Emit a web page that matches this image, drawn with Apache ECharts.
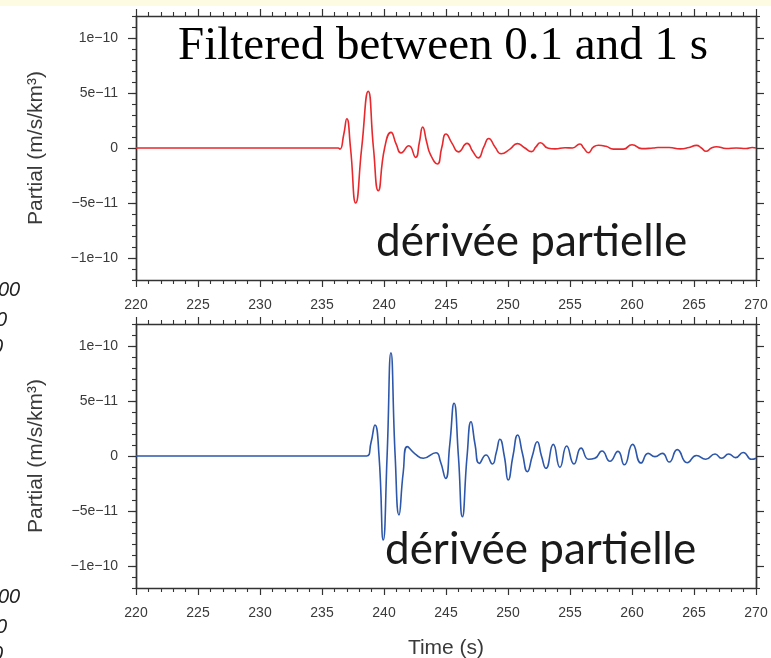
<!DOCTYPE html>
<html>
<head>
<meta charset="utf-8">
<script src="https://cdn.jsdelivr.net/npm/echarts@6/dist/echarts.min.js"></script>
<style>
  html, body { margin: 0; padding: 0; background: #ffffff; }
  #chart { width: 771px; height: 658px; }
</style>
</head>
<body>
<div id="chart"></div>
<script>
// Partial-derivative seismograms, band-pass filtered between 0.1 and 1 s.
// Time axis (s)
const timeTicks = [220, 225, 230, 235, 240, 245, 250, 255, 260, 265, 270];
const valueTicks = [-1e-10, -5e-11, 0, 5e-11, 1e-10];

// Upper trace (red)
const upperTime = [220, 236.3, 236.45, 236.75, 237.0, 237.3, 237.72, 238.2, 238.73, 239.15, 239.54, 240.05, 240.56, 241.0, 241.37, 242.0, 242.55, 242.85, 243.12, 243.45, 243.75, 244.3, 244.65, 245.0, 245.5, 246.0, 246.7, 247.15, 247.6, 248.05, 248.45, 248.95, 249.45, 250.16, 250.75, 251.3, 251.9, 252.25, 252.62, 253.2, 253.8, 254.6, 255.2, 255.8, 256.1, 256.48, 256.9, 257.3, 257.9, 258.5, 259.3, 260.0, 260.8, 261.7, 262.1, 263.0, 263.9, 264.6, 265.2, 265.6, 265.97, 266.4, 266.8, 267.6, 268.4, 269.2, 269.7, 270];
const upperValue = [0, 0, -0.1e-11, 1.2e-11, 2.66e-11, 0, -5.0e-11, 0, 5.15e-11, 0, -3.88e-11, 0, 1.42e-11, 0.3e-11, -0.45e-11, 0.2e-11, -0.85e-11, 0.5e-11, 1.9e-11, 0.5e-11, -0.6e-11, -1.45e-11, 0, 1.27e-11, 0.4e-11, -0.35e-11, 0.42e-11, -0.3e-11, -0.9e-11, 0.1e-11, 0.87e-11, 0.1e-11, -0.52e-11, -0.1e-11, 0.4e-11, 0.05e-11, -0.33e-11, 0.1e-11, 0.48e-11, 0, -0.08e-11, 0.02e-11, 0, 0.37e-11, 0, -0.43e-11, 0.1e-11, 0.25e-11, 0.15e-11, -0.1e-11, -0.1e-11, 0.3e-11, -0.06e-11, 0, 0.05e-11, 0.05e-11, -0.08e-11, 0.05e-11, 0.24e-11, 0, -0.3e-11, 0, 0.12e-11, -0.05e-11, 0, -0.05e-11, 0.05e-11, 0];

// Lower trace (blue)
const lowerTime = [220, 238.6, 238.95, 239.27, 239.6, 239.94, 240.25, 240.56, 240.9, 241.21, 241.55, 241.88, 242.5, 243.17, 244.19, 244.55, 244.97, 245.3, 245.65, 246.0, 246.32, 246.7, 247.02, 247.35, 247.69, 248.23, 248.74, 249.05, 249.35, 249.7, 250.02, 250.4, 250.78, 251.17, 251.56, 251.96, 252.36, 252.7, 253.06, 253.65, 254.19, 254.73, 255.32, 255.89, 256.5, 257.0, 257.58, 258.22, 258.87, 259.38, 260.05, 260.73, 261.3, 261.85, 262.45, 263.0, 263.65, 264.45, 265.2, 265.95, 266.7, 267.22, 267.8, 268.35, 268.97, 269.65, 270];
const lowerValue = [0, 0, 1.2e-11, 2.82e-11, 0, -7.64e-11, 0, 9.39e-11, 0, -5.36e-11, -1.5e-11, 0.85e-11, 0.2e-11, -0.2e-11, 0.3e-11, -0.5e-11, -2.03e-11, 1.0e-11, 4.79e-11, 0, -5.52e-11, 0, 3.12e-11, 1.0e-11, -0.67e-11, 0.09e-11, -0.73e-11, 0.3e-11, 1.52e-11, 0, -2.18e-11, 0, 1.91e-11, 0.2e-11, -1.42e-11, 0, 1.3e-11, 0, -1.12e-11, 1.06e-11, -1.03e-11, 0.91e-11, -0.73e-11, 0.72e-11, -0.3e-11, -0.21e-11, 0.45e-11, -0.48e-11, 0.42e-11, -0.8e-11, 1.06e-11, -0.64e-11, 0.24e-11, -0.06e-11, 0.24e-11, -0.55e-11, 0.58e-11, -0.61e-11, 0.05e-11, -0.3e-11, 0.18e-11, -0.21e-11, 0.18e-11, -0.15e-11, 0.32e-11, -0.3e-11, -0.2e-11];

const Y_MIN = -1.2e-10, Y_MAX = 1.2e-10;
const FRAME = '#333333';
const LABEL = '#3a3a3a';
const SANS = '"Liberation Sans", Arial, Helvetica, sans-serif';

function pairs(xs, ys) { return xs.map((x, i) => [x, ys[i]]); }

function fmtValue(v) {
  if (Math.abs(v) < 1e-20) return '0';
  return v.toExponential(0).replace(/-/g, '\u2212').replace('+', '');
}

const frameLine = { show: true, onZero: false, lineStyle: { color: FRAME, width: 1.4 } };

function xAxes(gridIndex, withName) {
  const base = {
    type: 'value', gridIndex, min: 220, max: 270, interval: 5,
    axisLine: frameLine,
    axisTick: { show: true, inside: false, length: 7, lineStyle: { color: FRAME, width: 1.2 } },
    minorTick: { show: true, splitNumber: 5, length: 4, lineStyle: { color: FRAME, width: 1.1 } },
    splitLine: { show: false }, minorSplitLine: { show: false }
  };
  return [
    Object.assign({}, base, {
      position: 'bottom',
      axisLabel: { show: true, margin: 18, color: LABEL, fontSize: 14, fontFamily: SANS,
        customValues: timeTicks },
      name: withName ? 'Time (s)' : '', nameLocation: 'middle', nameGap: 50,
      nameTextStyle: { color: LABEL, fontSize: 21, fontFamily: SANS }
    }),
    Object.assign({}, base, { position: 'top', axisLabel: { show: false } })
  ];
}

function yAxes(gridIndex) {
  const minor = {
    type: 'value', gridIndex, min: Y_MIN, max: Y_MAX, interval: 1e-11,
    axisLine: frameLine,
    axisTick: { show: true, inside: false, length: 4, lineStyle: { color: FRAME, width: 1.1 } },
    axisLabel: { show: false },
    splitLine: { show: false }
  };
  const major = {
    type: 'value', gridIndex, min: Y_MIN, max: Y_MAX, interval: 1e-11,
    axisLine: frameLine,
    axisTick: { show: true, inside: false, length: 8, customValues: valueTicks,
      lineStyle: { color: FRAME, width: 1.2 } },
    splitLine: { show: false }
  };
  return [
    Object.assign({}, minor, { position: 'left' }),
    Object.assign({}, major, {
      position: 'left',
      axisLabel: { show: true, margin: 18, color: LABEL, fontSize: 14, fontFamily: SANS,
        customValues: valueTicks, formatter: fmtValue },
      name: 'Partial (m/s/km\u00b3)', nameLocation: 'middle', nameGap: 89, nameRotate: 90,
      nameTextStyle: { color: LABEL, fontSize: 21, fontFamily: SANS }
    }),
    Object.assign({}, minor, { position: 'right' }),
    Object.assign({}, major, { position: 'right', axisLabel: { show: false } })
  ];
}

const chart = echarts.init(document.getElementById('chart'), null, { renderer: 'canvas' });

const overlayText = (x, y, text, font, size, color, extra) => Object.assign({
  type: 'text', x, y, z: 100,
  style: Object.assign({ text, fontFamily: font, fontSize: size, fill: color,
    align: 'left', verticalAlign: 'middle' }, extra || {})
});

chart.setOption({
  animation: false,
  backgroundColor: '#ffffff',
  grid: [
    { left: 136, top: 16, width: 620, height: 264, containLabel: false, outerBoundsMode: 'none' },
    { left: 136, top: 324, width: 620, height: 264, containLabel: false, outerBoundsMode: 'none' }
  ],
  xAxis: [...xAxes(0, false), ...xAxes(1, true)],
  yAxis: [...yAxes(0), ...yAxes(1)],
  series: [
    {
      type: 'line', xAxisIndex: 0, yAxisIndex: 1, data: pairs(upperTime, upperValue),
      smooth: 0.55, showSymbol: false, symbol: 'none',
      lineStyle: { color: '#e8282c', width: 1.6 }
    },
    {
      type: 'line', xAxisIndex: 2, yAxisIndex: 5, data: pairs(lowerTime, lowerValue),
      smooth: 0.55, showSymbol: false, symbol: 'none',
      lineStyle: { color: '#2d57aa', width: 1.6 }
    }
  ],
  graphic: [
    { type: 'rect', shape: { x: 0, y: 0, width: 771, height: 6 }, style: { fill: '#fdfbe2' }, z: 0 },
    overlayText(178, 47, 'Filtered between 0.1 and 1 s', '"Liberation Serif", "Times New Roman", serif', 47, '#000000'),
    overlayText(376, 242, 'dérivée partielle', 'Lato, "Open Sans", sans-serif', 44, '#1a1a1a'),
    overlayText(385, 550, 'dérivée partielle', 'Lato, "Open Sans", sans-serif', 44, '#1a1a1a'),
    overlayText(-2, 290, '00', SANS, 20, '#222222', { fontStyle: 'italic' }),
    overlayText(-4, 320, '0', SANS, 20, '#222222', { fontStyle: 'italic' }),
    overlayText(-8, 347, '0', SANS, 20, '#222222', { fontStyle: 'italic' }),
    overlayText(-2, 597, '00', SANS, 20, '#222222', { fontStyle: 'italic' }),
    overlayText(-4, 627, '0', SANS, 20, '#222222', { fontStyle: 'italic' }),
    overlayText(-8, 654, '0', SANS, 20, '#222222', { fontStyle: 'italic' })
  ]
});
</script>
</body>
</html>
